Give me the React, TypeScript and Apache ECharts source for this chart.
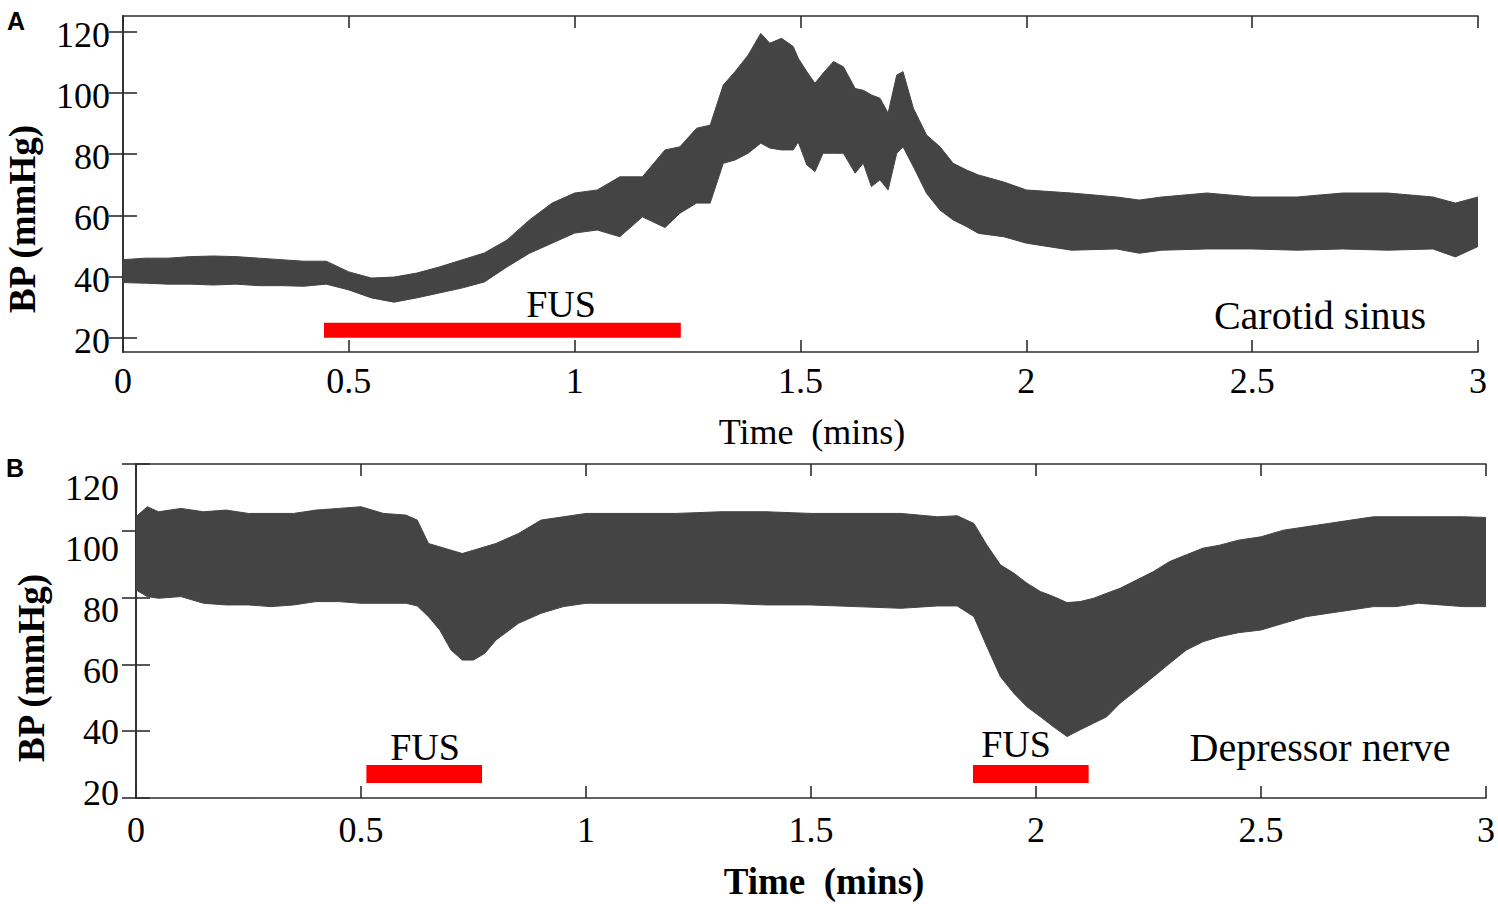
import React, { useEffect, useRef } from "react";
import * as echarts from "echarts";

// ---------- Panel A: Carotid sinus (envelope of BP trace, mmHg) ----------
const timeA = [0, 0.05, 0.1, 0.15, 0.2, 0.25, 0.3, 0.35, 0.4, 0.45, 0.5, 0.55, 0.6, 0.65, 0.7, 0.75, 0.8, 0.85, 0.9, 0.95, 1.0, 1.05, 1.1, 1.15, 1.2, 1.233, 1.27, 1.3, 1.329, 1.355, 1.384, 1.412, 1.432, 1.458, 1.484, 1.495, 1.514, 1.532, 1.55, 1.573, 1.595, 1.621, 1.639, 1.657, 1.676, 1.694, 1.713, 1.727, 1.75, 1.779, 1.809, 1.838, 1.868, 1.894, 1.95, 2.0, 2.1, 2.2, 2.25, 2.3, 2.4, 2.5, 2.6, 2.7, 2.8, 2.9, 2.95, 3.0];
const upperA = [45.5, 46.0, 46.0, 46.5, 46.7, 46.5, 46.0, 45.5, 45.0, 45.0, 41.5, 39.5, 39.8, 41.1, 43.1, 45.4, 47.7, 51.9, 58.5, 64.0, 67.3, 68.3, 72.6, 72.6, 81.4, 82.4, 88.5, 89.5, 102.6, 107.0, 112.4, 119.5, 116.3, 117.9, 115.2, 111.4, 107.0, 103.2, 106.5, 110.3, 108.6, 101.5, 100.9, 99.4, 98.3, 93.4, 105.9, 107.0, 95.0, 86.3, 82.4, 77.0, 74.8, 73.2, 70.9, 68.3, 67.3, 66.0, 65.0, 66.0, 67.3, 66.0, 66.0, 67.3, 67.3, 66.0, 64.0, 66.0];
const lowerA = [38.0, 37.8, 37.5, 37.5, 37.2, 37.5, 37.0, 37.0, 36.8, 37.5, 35.6, 33.0, 31.6, 33.0, 34.6, 36.2, 38.2, 43.1, 47.6, 50.9, 54.2, 55.2, 53.0, 59.5, 56.0, 60.7, 64.0, 64.0, 77.0, 78.1, 80.3, 83.6, 82.0, 81.4, 81.4, 84.0, 76.5, 74.3, 80.3, 80.3, 80.3, 73.8, 77.1, 69.4, 71.6, 68.3, 80.3, 82.4, 75.9, 67.2, 61.7, 58.5, 56.3, 54.1, 53.0, 50.9, 48.6, 49.0, 47.6, 48.6, 49.0, 49.0, 48.6, 49.0, 48.6, 49.0, 46.4, 49.8];

// ---------- Panel B: Depressor nerve ----------
const timeB = [0, 0.025, 0.05, 0.1, 0.15, 0.2, 0.25, 0.3, 0.35, 0.4, 0.45, 0.5, 0.55, 0.6, 0.625, 0.65, 0.675, 0.7, 0.725, 0.75, 0.775, 0.8, 0.85, 0.9, 0.95, 1.0, 1.1, 1.2, 1.3, 1.4, 1.5, 1.6, 1.7, 1.781, 1.825, 1.862, 1.891, 1.921, 1.951, 1.98, 2.01, 2.039, 2.069, 2.098, 2.128, 2.157, 2.187, 2.224, 2.261, 2.297, 2.334, 2.371, 2.408, 2.45, 2.5, 2.55, 2.6, 2.65, 2.7, 2.75, 2.8, 2.85, 2.9, 2.95, 3.0];
const upperB = [104.2, 107.2, 105.7, 106.7, 105.7, 106.2, 105.2, 105.2, 105.2, 106.2, 106.7, 107.2, 105.2, 104.7, 103.2, 96.2, 95.2, 94.2, 93.2, 94.2, 95.2, 96.2, 99.2, 103.2, 104.2, 105.2, 105.2, 105.2, 105.7, 105.7, 105.2, 105.2, 105.2, 104.2, 104.5, 102.2, 95.7, 89.8, 87.3, 84.3, 81.8, 80.3, 78.5, 78.8, 79.8, 81.3, 82.8, 85.3, 87.8, 90.8, 92.8, 94.8, 95.7, 97.2, 98.2, 100.2, 101.2, 102.2, 103.2, 104.2, 104.2, 104.2, 104.2, 104.2, 104.0];
const lowerB = [82.3, 80.3, 79.8, 80.3, 78.3, 77.8, 77.8, 77.3, 77.8, 78.8, 78.8, 78.3, 78.3, 78.3, 77.5, 74.3, 70.3, 64.3, 61.3, 61.3, 63.3, 67.3, 72.3, 75.3, 77.3, 78.3, 78.3, 78.3, 78.3, 77.8, 77.8, 77.3, 76.8, 77.5, 77.5, 74.3, 65.3, 56.3, 51.3, 47.3, 44.3, 41.3, 38.4, 40.4, 42.4, 44.3, 48.4, 52.3, 56.3, 60.3, 64.3, 66.8, 68.3, 69.5, 70.3, 72.3, 74.3, 75.3, 76.3, 77.3, 77.3, 78.3, 77.8, 77.3, 77.3];

// FUS stimulation periods (mins) and bar level (mmHg)
const fusA = [[0.445, 1.235]];
const fusALevel = 22.4;
const fusB = [[0.512, 0.769], [1.86, 2.117]];
const fusBLevel = 27.2;

const yTicks = [20, 40, 60, 80, 100, 120];
const SERIF = "'Liberation Serif', 'Times New Roman', serif";
const TRACE = "#444444";
const AXIS = "#2e2e2e";

function bandSeries(t: number[], up: number[], lo: number[], xi: number, yi: number) {
  return {
    type: "custom",
    xAxisIndex: xi,
    yAxisIndex: yi,
    silent: true,
    clip: true,
    z: 2,
    data: [[t[0], lo[0]]],
    renderItem: (_params: any, api: any) => {
      const top = t.map((v, i) => api.coord([v, up[i]]));
      const bottom = t.map((v, i) => api.coord([v, lo[i]])).reverse();
      return {
        type: "polygon",
        shape: { points: top.concat(bottom) },
        style: { fill: TRACE, stroke: TRACE, lineWidth: 1 },
      };
    },
  };
}

function fusSeries(periods: number[][], level: number, xi: number, yi: number, w: number) {
  return periods.map((p) => ({
    type: "line",
    xAxisIndex: xi,
    yAxisIndex: yi,
    symbol: "none",
    silent: true,
    z: 5,
    lineStyle: { width: w, color: "#ff0000", cap: "butt" },
    data: [[p[0], level], [p[1], level]],
  }));
}

export default function App() {
  const ref = useRef<HTMLDivElement>(null);
  useEffect(() => {
    if (!ref.current) return;
    const chart = echarts.init(ref.current, undefined, { renderer: "svg" });
    const lineStyle = { color: AXIS, width: 1.6 };
    const labelBase = { fontFamily: SERIF, fontSize: 36, color: "#000" };
    const xBottom = (grid: number, margin: number) => ({
      type: "value",
      gridIndex: grid,
      min: 0,
      max: 3,
      interval: 0.5,
      position: "bottom",
      axisLine: { show: true, lineStyle },
      axisTick: { show: true, inside: true, length: 12, lineStyle },
      axisLabel: { ...labelBase, margin, showMinLabel: true, showMaxLabel: true },
      splitLine: { show: false },
    });
    const xTop = (grid: number) => ({
      type: "value",
      gridIndex: grid,
      min: 0,
      max: 3,
      interval: 0.5,
      position: "top",
      axisLine: { show: true, lineStyle },
      axisTick: { show: true, inside: true, length: 12, lineStyle },
      axisLabel: { show: false },
      splitLine: { show: false },
    });
    const yTickAxis = (grid: number, pos: string, min: number, max: number) => ({
      type: "value",
      gridIndex: grid,
      min,
      max,
      position: pos,
      axisLine: { show: true, lineStyle },
      axisTick: { show: true, inside: true, length: 14, lineStyle, customValues: yTicks },
      axisLabel: { show: false },
      splitLine: { show: false },
    });
    const yLabelAxis = (grid: number, min: number, max: number, margin: number) => ({
      type: "value",
      gridIndex: grid,
      min,
      max,
      position: "left",
      axisLine: { show: false },
      axisTick: { show: false },
      axisLabel: { ...labelBase, margin, customValues: yTicks },
      splitLine: { show: false },
    });

    chart.setOption({
      animation: false,
      backgroundColor: "#ffffff",
      grid: [
        { left: 123, top: 16, width: 1355, height: 336, containLabel: false },
        { left: 136, top: 464, width: 1354, height: 334, containLabel: false },
      ],
      xAxis: [xBottom(0, 11), xTop(0), xBottom(1, 14), xTop(1)],
      yAxis: [
        yTickAxis(0, "left", 15.3, 125.2),
        yTickAxis(0, "right", 15.3, 125.2),
        yTickAxis(1, "left", 20, 120),
        yTickAxis(1, "right", 20, 120),
        yLabelAxis(0, 16.3, 126.2, 13),
        yLabelAxis(1, 18.36, 127.87, 17),
      ],
      series: [
        bandSeries(timeA, upperA, lowerA, 0, 0),
        ...fusSeries(fusA, fusALevel, 0, 0, 15),
        bandSeries(timeB, upperB, lowerB, 2, 2),
        ...fusSeries(fusB, fusBLevel, 2, 2, 18),
      ],
      graphic: [
        { type: "text", left: 7, top: 8, style: { text: "A", font: "bold 25px 'Liberation Sans', Arial, sans-serif", fill: "#000" } },
        { type: "text", left: 6, top: 455, style: { text: "B", font: "bold 25px 'Liberation Sans', Arial, sans-serif", fill: "#000" } },
        { type: "text", x: 22, y: 219, rotation: Math.PI / 2, style: { text: "BP (mmHg)", font: `bold 37px ${SERIF}`, fill: "#000", textAlign: "center", textVerticalAlign: "middle" } },
        { type: "text", x: 31, y: 668, rotation: Math.PI / 2, style: { text: "BP (mmHg)", font: `bold 37px ${SERIF}`, fill: "#000", textAlign: "center", textVerticalAlign: "middle" } },
        { type: "text", x: 812, y: 432, style: { text: "Time  (mins)", font: `36px ${SERIF}`, fill: "#000", textAlign: "center", textVerticalAlign: "middle" } },
        { type: "text", x: 824, y: 881, style: { text: "Time  (mins)", font: `bold 37px ${SERIF}`, fill: "#000", textAlign: "center", textVerticalAlign: "middle" } },
        { type: "text", x: 561, y: 304, style: { text: "FUS", font: `38px ${SERIF}`, fill: "#000", textAlign: "center", textVerticalAlign: "middle" } },
        { type: "text", x: 425, y: 747, style: { text: "FUS", font: `38px ${SERIF}`, fill: "#000", textAlign: "center", textVerticalAlign: "middle" } },
        { type: "text", x: 1016, y: 744, style: { text: "FUS", font: `38px ${SERIF}`, fill: "#000", textAlign: "center", textVerticalAlign: "middle" } },
        { type: "text", x: 1320, y: 315, style: { text: "Carotid sinus", font: `40px ${SERIF}`, fill: "#000", textAlign: "center", textVerticalAlign: "middle" } },
        { type: "text", x: 1320, y: 747, style: { text: "Depressor nerve", font: `40px ${SERIF}`, fill: "#000", textAlign: "center", textVerticalAlign: "middle" } },
      ],
    });
    return () => chart.dispose();
  }, []);
  return (
    <div
      ref={ref}
      style={{ position: "absolute", left: 0, top: 0, width: 1498, height: 904, background: "#fff" }}
    />
  );
}
